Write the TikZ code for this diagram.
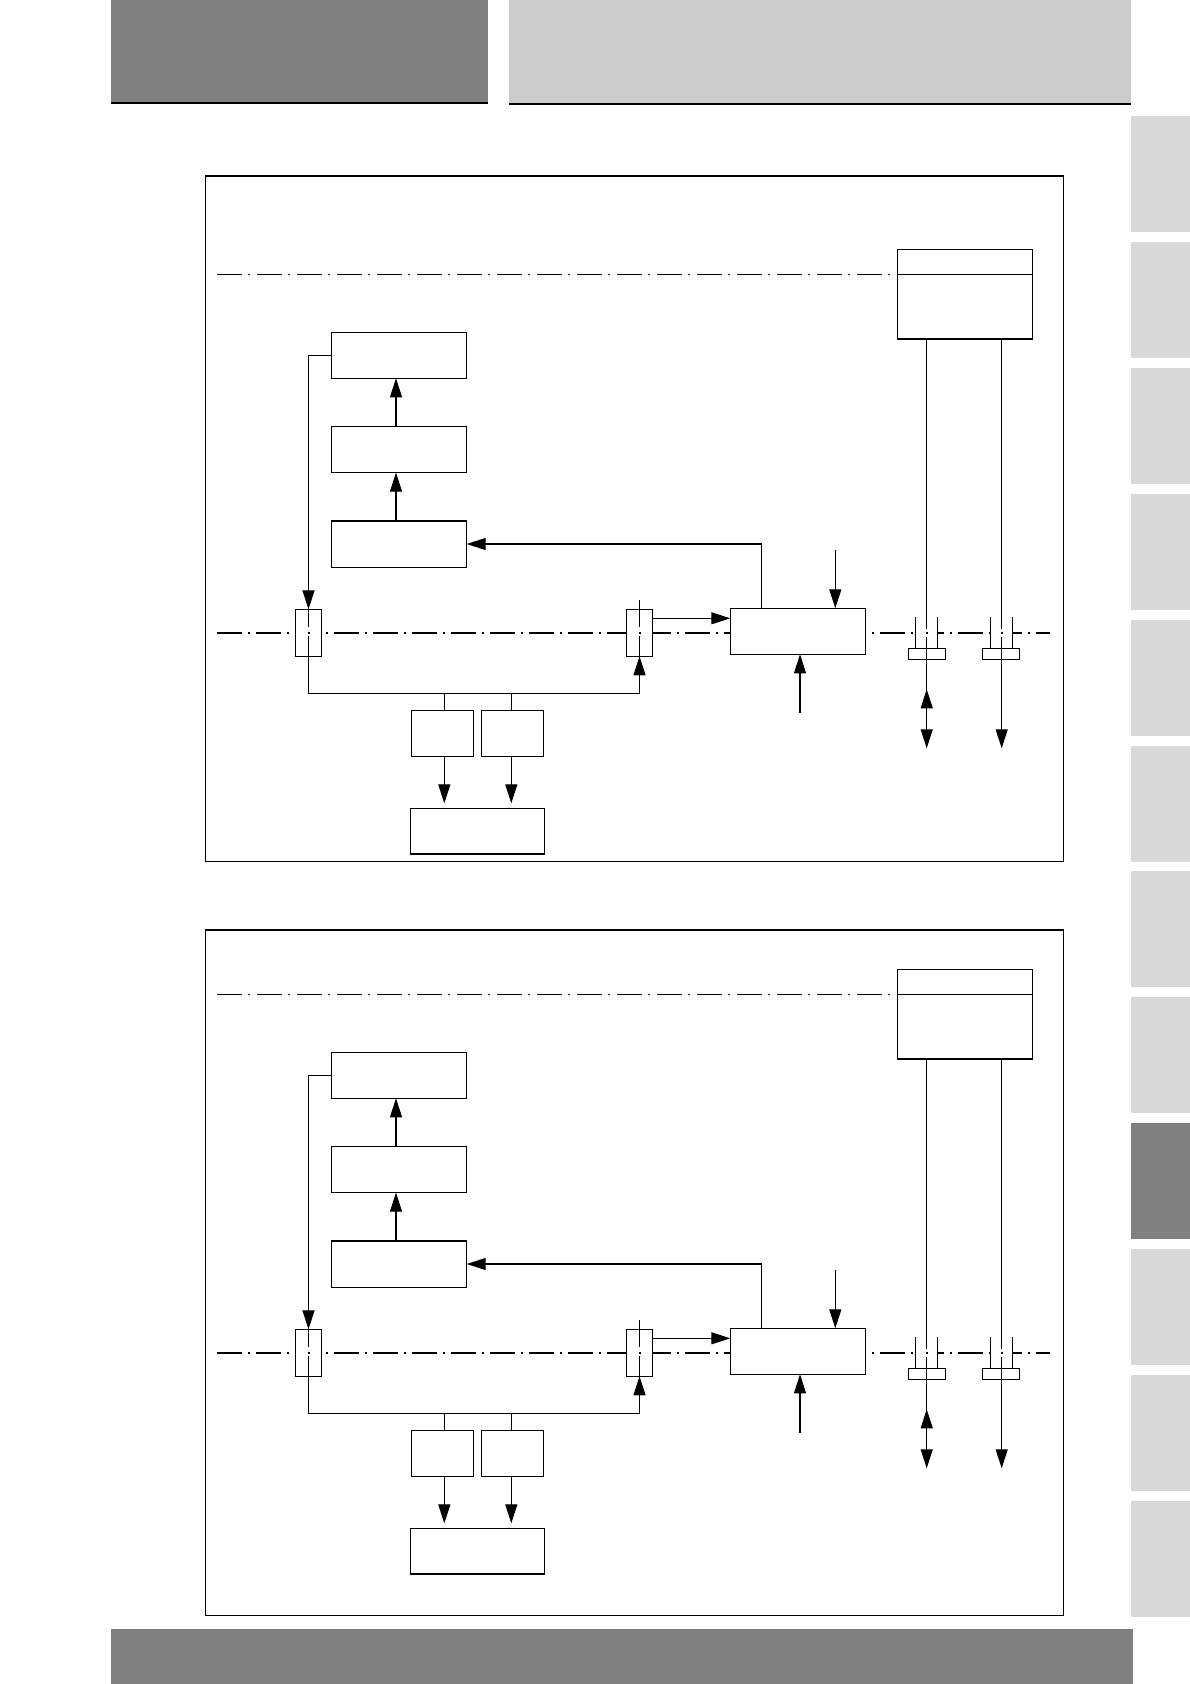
\documentclass[tikz,border=0pt]{standalone}
\usetikzlibrary{arrows.meta}
\definecolor{hdark}{HTML}{808080}
\definecolor{hlight}{HTML}{CCCCCC}
\definecolor{tabg}{HTML}{D9D9D9}
\tikzset{
  box/.style={draw, fill=white, line width=1.2pt, inner sep=0pt, outer sep=0pt},
  conn/.style={line width=1.1pt},
  arr/.style={line width=1.1pt, -{Triangle[length=19pt,width=12pt]}},
  thincl/.style={line width=1pt, dash pattern=on 25pt off 6pt on 2pt off 7pt},
  maincl/.style={line width=2pt, dash pattern=on 25pt off 6pt on 2pt off 6pt},
  frame/.style={draw, line width=1.5pt},
}
\newcommand{\panel}[3]{%
\begin{scope}[shift={(0,#3)}]
  \draw[frame] (205.3,176) rectangle (1063.3,861.4);
\end{scope}
\begin{scope}[shift={(0,#2)}]
  % centre lines
  \coordinate (#1cla) at (217,274.3);
  \coordinate (#1mla) at (217,632.7);
  \coordinate (#1mlb) at (1050,632.7);
  \coordinate (#1bus) at (0,693.3);
  \coordinate (#1rg) at (0,618.3);
  \coordinate (#1gin) at (835.3,550);
  \coordinate (#1gbt) at (800,712.7);
  \coordinate (#1b1) at (926.7,632.7);
  \coordinate (#1b2) at (1001.7,632.7);
  \coordinate (#1bend) at (0,748.3);
  \coordinate (#1upa) at (0,709);
  \coordinate (#1upt) at (0,689.3);
  \draw[maincl] (#1mla) -- (#1mlb);
  % boxes
  \node[box, minimum width=135pt, minimum height=89.7pt] (#1TR) at (964.8,294.15) {};
  \draw[thincl] (#1cla) -- (#1cla -| #1TR.west);
  \draw[conn] (#1TR.west |- #1cla) -- (#1TR.east |- #1cla);
  \node[box, minimum width=135.4pt, minimum height=46pt] (#1A) at (399,355.3) {};
  \node[box, minimum width=135.4pt, minimum height=46.2pt] (#1B) at (399,449.5) {};
  \node[box, minimum width=135.4pt, minimum height=46.2pt] (#1C) at (399,544) {};
  \node[box, minimum width=26.4pt, minimum height=47pt] (#1L) at (308.5,632.8) {};
  \node[box, minimum width=26.4pt, minimum height=47pt] (#1R) at (639.5,632.8) {};
  \node[box, minimum width=135.4pt, minimum height=46pt] (#1G) at (798,631.3) {};
  \node[box, minimum width=62pt, minimum height=46pt] (#1D) at (442.3,733.3) {};
  \node[box, minimum width=62pt, minimum height=46pt] (#1E) at (512.3,733.3) {};
  \node[box, minimum width=133.6pt, minimum height=45.7pt] (#1F) at (477.5,831.2) {};
  % centre marks in the shaft boxes
  \draw[conn] (#1L.north) -- ([yshift=6pt]#1L.center);
  \draw[conn] ([yshift=-3pt]#1L.center) -- (#1L.south);
  \fill ([shift={(-1pt,-1pt)}]#1L.center) rectangle ++(2pt,2pt);
  \draw[conn] ([yshift=9pt]#1R.north) -- ([yshift=6pt]#1R.center);
  \draw[conn] ([yshift=-3pt]#1R.center) -- (#1R.south);
  \fill ([shift={(-1pt,-1pt)}]#1R.center) rectangle ++(2pt,2pt);
  % connectors
  \draw[arr] ([xshift=-3pt]#1C.north) -- ([xshift=-3pt]#1B.south);
  \draw[arr] ([xshift=-3pt]#1B.north) -- ([xshift=-3pt]#1A.south);
  \draw[arr] (#1A.west) -| (#1L.north);
  \draw[arr] (#1L.south) |- (#1R.south |- #1bus) -- (#1R.south);
  \draw[conn] ([xshift=2pt]#1D.north |- #1bus) -- ([xshift=2pt]#1D.north);
  \draw[conn] ([xshift=-1pt]#1E.north |- #1bus) -- ([xshift=-1pt]#1E.north);
  \draw[arr, shorten >=5pt] ([xshift=2pt]#1D.south) -- ([xshift=2pt]#1D.south |- #1F.north);
  \draw[arr, shorten >=5pt] ([xshift=-1pt]#1E.south) -- ([xshift=-1pt]#1E.south |- #1F.north);
  \draw[arr] (#1R.east |- #1rg) -- (#1G.west |- #1rg);
  \draw[arr] ([xshift=31pt]#1G.north west) |- (#1C.east);
  \draw[arr] (#1gin) -- (#1gin |- #1G.north);
  \draw[arr] (#1gbt) -- (#1gbt |- #1G.south);
  % bearings
  \fill[white] ([shift={(-11pt,-15.6pt)}]#1b1) rectangle ([shift={(10.6pt,15.4pt)}]#1b1);
  \fill[white] ([shift={(-11pt,-15.6pt)}]#1b2) rectangle ([shift={(10.6pt,15.4pt)}]#1b2);
  \node[box, minimum width=37.4pt, minimum height=11pt] (#1S1) at (927,653.8) {};
  \node[box, minimum width=37pt, minimum height=11pt] (#1S2) at (1000.8,653.8) {};
  \draw[conn] ([xshift=-11pt]#1b1 |- #1S1.north) -- ++(0,-31);
  \draw[conn] ([xshift=10.6pt]#1b1 |- #1S1.north) -- ++(0,-31);
  \draw[conn] ([xshift=-11pt]#1b2 |- #1S2.north) -- ++(0,-31);
  \draw[conn] ([xshift=10.6pt]#1b2 |- #1S2.north) -- ++(0,-31);
  \draw[conn] (#1TR.south -| #1b1) -- ([yshift=4pt]#1b1);
  \draw[arr] ([yshift=-4pt]#1b1) -- (#1b1 |- #1bend);
  \draw[arr] (#1b1 |- #1upa) -- (#1b1 |- #1upt);
  \fill ([shift={(-1pt,-1pt)}]#1b1) rectangle ++(2pt,2pt);
  \draw[conn] (#1TR.south -| #1b2) -- ([yshift=4pt]#1b2);
  \draw[arr] ([yshift=-4pt]#1b2) -- (#1b2 |- #1bend);
  \fill ([shift={(-1pt,-1pt)}]#1b2) rectangle ++(2pt,2pt);
\end{scope}}
\begin{document}
\begin{tikzpicture}[x=1pt,y=-1pt]
  \useasboundingbox[fill=white] (0,0) rectangle (1190,1684);
  % header
  \fill[hdark] (110.6,0) rectangle (487.5,102);
  \draw[line width=2.2pt] (110.6,102.7) -- (487.5,102.7);
  \fill[hlight] (509,0) rectangle (1131,102.5);
  \draw[line width=2.2pt] (509,103.7) -- (1131,103.7);
  % side tabs
  \foreach \i in {0,...,11} {
    \ifnum\i=8
      \fill[hdark] (1131,116+125.9*\i) rectangle (1190,232+125.9*\i);
    \else
      \fill[tabg] (1131,116+125.9*\i) rectangle (1190,232+125.9*\i);
    \fi
  }
  % bottom bar
  \fill[hdark] (110.6,1629) rectangle (1133,1684);
  \panel{a}{0}{0}
  \panel{b}{720}{754}
\end{tikzpicture}
\end{document}
